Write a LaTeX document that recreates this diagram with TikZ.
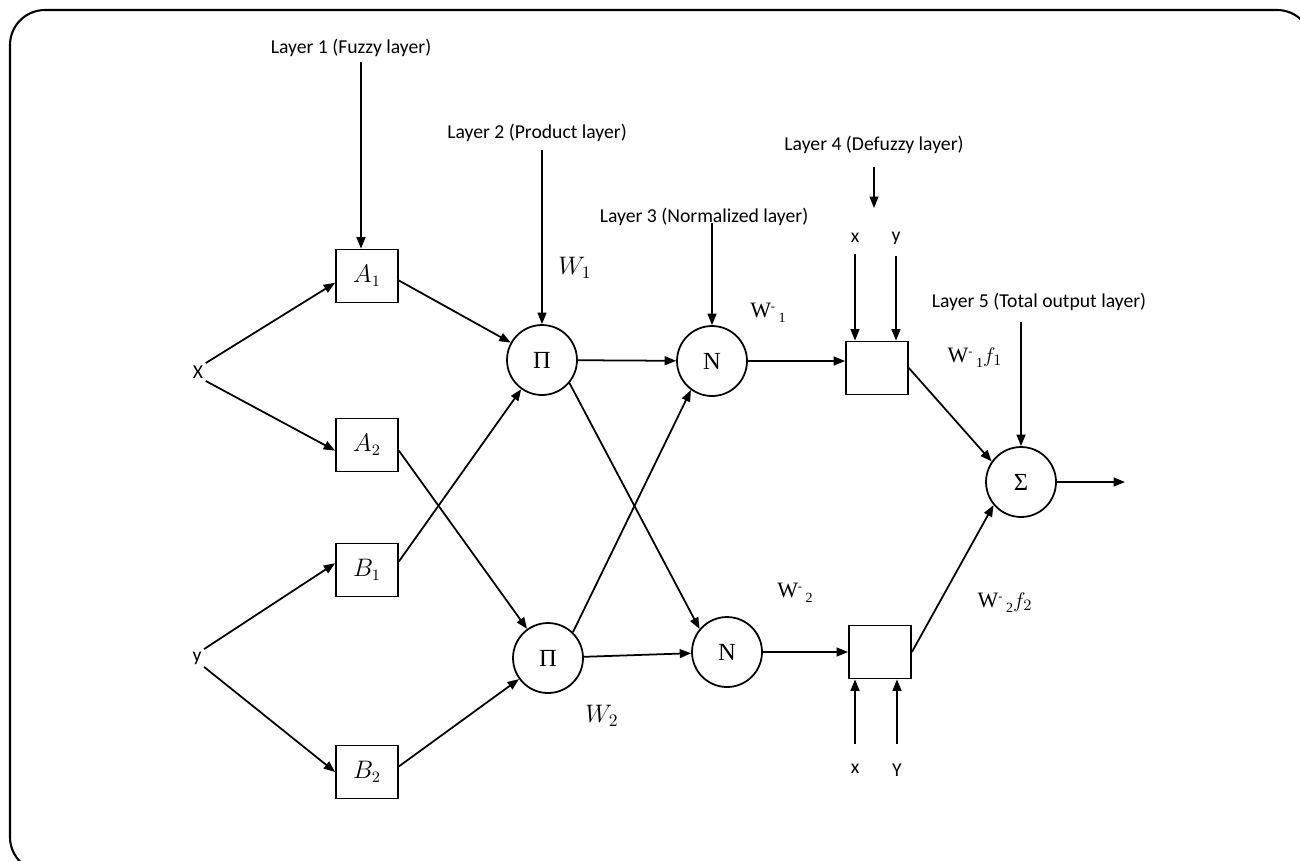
\documentclass[tikz,border=0pt]{standalone}
\usepackage{fontspec}
\setmainfont{Carlito}
\newfontfamily\serif{Liberation Serif}
\usetikzlibrary{arrows.meta}
\begin{document}
\begin{tikzpicture}[x=0.02cm,y=-0.02cm,
  line width=1pt,
  arr/.style={-{Triangle[length=6.5pt,width=5pt]}},
  fbox/.style={draw,minimum width=1.24cm,minimum height=1.06cm,inner sep=0pt,font=\fontsize{13.5}{15}\selectfont},
  neur/.style={draw,circle,minimum size=1.4cm,inner sep=0pt,font=\serif\fontsize{14}{16}\selectfont},
  lbl/.style={font=\fontsize{11.2}{13}\selectfont,inner sep=1pt},
  wlbl/.style={font=\serif\fontsize{12.5}{14}\selectfont,inner sep=0pt},
]
\useasboundingbox (0,0) rectangle (1300,860);
\clip (0,0) rectangle (1300,860);
\draw[line width=1.2pt,rounded corners=0.7cm] (10,10) rectangle (1312,872);

% layer 1 boxes
\node[fbox] (A1) at (367,276) {$A_1$};
\node[fbox] (A2) at (367,445) {$A_2$};
\node[fbox] (B1) at (367,570) {$B_1$};
\node[fbox] (B2) at (367,772) {$B_2$};
\node[lbl] (xin) at (198,372) {X};
\node[lbl] (yin) at (197,658) {y};

% neurons
\node[neur] (P1) at (542,360) {Π};
\node[neur] (P2) at (548,658) {Π};
\node[neur] (N1) at (712,361) {N};
\node[neur] (N2) at (727,652) {N};
\node[neur] (S) at (1021,482) {Σ};
\node[fbox] (D1) at (877,368) {};
\node[fbox] (D2) at (880,652) {};

% layer labels
\node[lbl] (L1) at (351,48) {Layer 1 (Fuzzy layer)};
\node[lbl] (L2) at (537,133) {Layer 2 (Product layer)};
\node[lbl] (L3) at (704,217) {Layer 3 (Normalized layer)};
\node[lbl] (L4) at (874,145) {Layer 4 (Defuzzy layer)};
\node[lbl] (L5) at (1039,302) {Layer 5 (Total output layer)};

\coordinate (l1) at (361,62);
\draw[arr] (l1) -- (l1 |- A1.north);
\draw[arr,shorten <=3pt] (L2.south -| P1.north) -- (P1.north);
\draw[arr] (N1.north |- L3.base) -- (N1.north);
\coordinate (l4) at (874,208);
\draw[arr,shorten <=6pt] (L4.south) -- (l4);
\draw[arr,shorten <=5pt] (S.north |- L5.south) -- (S.north);

% defuzzy inputs
\node[lbl] (xu) at (855,238) {x};
\node[lbl] (yu) at (896,238) {y};
\draw[arr,shorten <=5pt] (xu.south) -- (xu.south |- D1.north);
\draw[arr,shorten <=5pt] (yu.south) -- (yu.south |- D1.north);
\node[lbl] (xl) at (855,769) {x};
\node[lbl] (yl) at (897,770) {Y};
\draw[arr,shorten <=10pt] (xl.north) -- (xl.north |- D2.south);
\draw[arr,shorten <=10pt] (yl.north) -- (yl.north |- D2.south);

% weight labels
\node[wlbl,font=\fontsize{14}{16}\selectfont] (w1) at (575,268) {$W_1$};
\node[wlbl,font=\fontsize{14}{16}\selectfont] (w2) at (602,716) {$W_2$};
\node[wlbl] (wb1) at (768,313) {W\raisebox{0.7ex}{\scriptsize -}\,\raisebox{-0.5ex}{\footnotesize 1}};
\node[wlbl] (wb2) at (795,593) {W\raisebox{0.7ex}{\scriptsize -}\,\raisebox{-0.5ex}{\footnotesize 2}};
\node[wlbl] (wf1) at (975,358) {W\raisebox{0.7ex}{\scriptsize -}\,\raisebox{-0.5ex}{\footnotesize 1}$f_1$};
\node[wlbl] (wf2) at (1005,603) {W\raisebox{0.7ex}{\scriptsize -}\,\raisebox{-0.5ex}{\footnotesize 2}$f_2$};

% connectors
\draw[arr] (xin.north east) -- (A1.192);
\draw[arr] (xin.south east) -- (A2.190);
\draw[arr] (yin.north east) -- (B1.168);
\draw[arr] (yin.south east) -- (B2.west);
\draw[arr] (A1.-8) -- (P1);
\draw[arr] (B1.15) -- (P1);
\draw[arr] (A2.-10) -- (P2);
\draw[arr] (B2.10) -- (P2);
\draw[arr] (P1) -- (N1);
\draw[arr] (P1.-40) -- (N2.140);
\draw[arr] (P2.46) -- (N1.234);
\draw[arr] (P2) -- (N2);
\draw[arr] (N1.east) -- (N1.east -| D1.west);
\draw[arr] (N2.east) -- (N2.east -| D2.west);
\draw[arr] (D1.east) -- (S.145);
\draw[arr] (D2.east) -- (S.220);
\coordinate (out) at (1125,482);
\draw[arr] (S) -- (out);
\end{tikzpicture}
\end{document}
